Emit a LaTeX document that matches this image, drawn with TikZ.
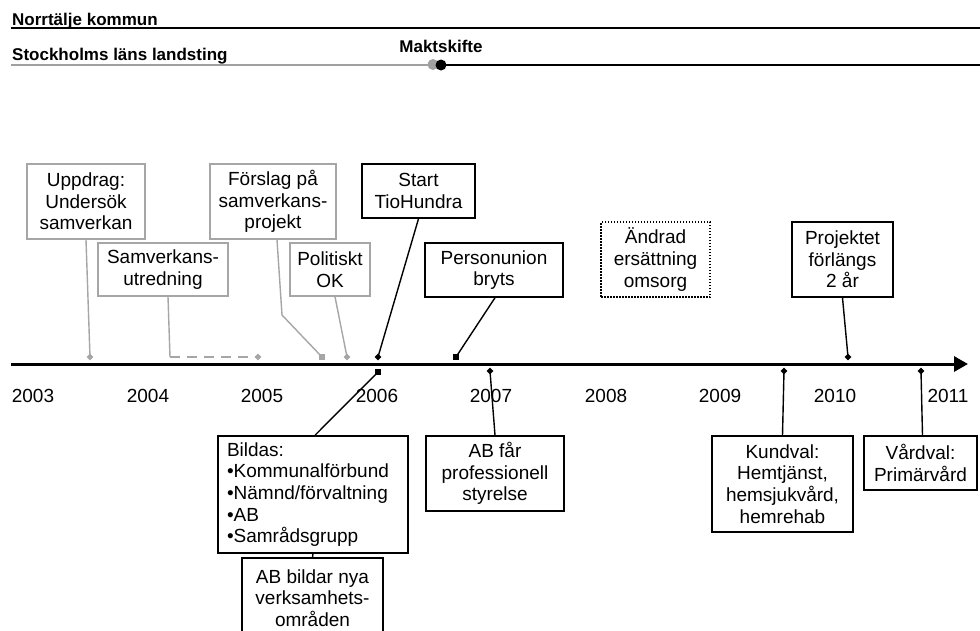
\documentclass[tikz,border=0pt]{standalone}
\usepackage{fontspec}
\setmainfont{Liberation Sans}
\usetikzlibrary{shapes.geometric,arrows.meta}
\definecolor{evgray}{HTML}{A6A6A6}
\definecolor{lngray}{HTML}{A0A0A0}
\begin{document}
\begin{tikzpicture}[x=1pt,y=-1pt,
  ev/.style={draw=black, line width=1.5pt, align=center, inner sep=0pt, fill=white,
    font=\fontsize{19}{21.7}\selectfont},
  gev/.style={ev, draw=evgray},
  lnk/.style={line width=1.4pt, draw=black},
  glnk/.style={line width=1.4pt, draw=evgray},
  dmk/.style={diamond, fill=black, inner sep=0pt, minimum size=7pt},
  gdmk/.style={dmk, fill=evgray},
  smk/.style={rectangle, fill=black, inner sep=0pt, minimum size=5.5pt},
  gsmk/.style={smk, fill=evgray},
  yr/.style={font=\fontsize{19}{22}\selectfont, anchor=base, inner sep=0pt},
  hdr/.style={font=\fontsize{17}{19}\selectfont\bfseries, anchor=base west, inner sep=0pt}]
\clip (0,0) rectangle (980,630);
\fill[white] (0,0) rectangle (980,630);

% --- header lines
\node[hdr] (nk) at (12,25) {Norrtälje kommun};
\coordinate (nkL) at (11,28);
\coordinate (nkR) at (980,28);
\draw[line width=2pt] (nkL) -- (nkR);

\node[hdr] (sll) at (12,60) {Stockholms läns landsting};
\node[circle, fill=lngray, inner sep=0pt, minimum size=11pt] (gd) at (433,64.5) {};
\node[circle, fill=black, inner sep=0pt, minimum size=11pt] (bd) at (441,65) {};
\coordinate (sllL) at (11,64.5);
\coordinate (sllR) at (980,65);
\draw[line width=2pt, lngray] (sllL) -- (gd.center);
\draw[line width=2pt] (bd.center) -- (sllR);
\node[font=\fontsize{17}{19}\selectfont\bfseries, anchor=base, inner sep=0pt] (mk) at (441,52) {Maktskifte};

% --- axis
\coordinate (axL) at (11,364);
\coordinate (axR) at (968,364);
\draw[line width=3pt, -{Triangle[length=14pt,width=15pt]}] (axL) -- (axR);

\node[yr] (y03) at (33,402) {2003};
\node[yr] (y04) at (148,402) {2004};
\node[yr] (y05) at (262,402) {2005};
\node[yr] (y06) at (377,402) {2006};
\node[yr] (y07) at (491,402) {2007};
\node[yr] (y08) at (606,402) {2008};
\node[yr] (y09) at (720,402) {2009};
\node[yr] (y10) at (835,402) {2010};
\node[yr] (y11) at (948,402) {2011};

% --- events above
\node[gev, minimum width=118pt, minimum height=75pt] (u) at (86,201.5) {Uppdrag:\\Undersök\\samverkan};
\node[gev, minimum width=130pt, minimum height=53pt] (sv) at (163,269.5) {Samverkans-\\utredning};
\node[gev, minimum width=126pt, minimum height=75pt] (fp) at (273,201.5) {Förslag på\\samverkans-\\projekt};
\node[gev, minimum width=80pt, minimum height=53pt] (po) at (330,269.5) {Politiskt\\OK};
\node[ev, minimum width=113pt, minimum height=54pt] (st) at (418.5,191) {Start\\TioHundra};
\node[ev, minimum width=138pt, minimum height=54pt] (pu) at (494,270) {Personunion\\bryts};
\node[ev, dash pattern=on 1.5pt off 1.5pt, minimum width=109pt, minimum height=75pt] (ae) at (655.5,259.5) {Ändrad\\ersättning\\omsorg};
\node[ev, minimum width=101pt, minimum height=75pt] (pf) at (842.5,259.5) {Projektet\\förlängs\\2 år};

% markers above
\node[gdmk] (mu) at (90,357) {};
\node[gdmk] (msv) at (258,357) {};
\coordinate (csv) at (170,357);
\node[gsmk] (mfp) at (322,357) {};
\coordinate (cfp) at (282,315);
\node[gdmk] (mpo) at (347,357) {};
\node[dmk] (mst) at (378,357) {};
\node[smk] (mpu) at (456,357) {};
\node[dmk] (mpf) at (848,357) {};

\draw[glnk] (u.south) -- (mu.center);
\draw[glnk] ([xshift=5pt]sv.south) -- (csv);
\draw[glnk, dash pattern=on 10pt off 7pt] (csv) -- (msv.center);
\draw[glnk] ([xshift=4pt]fp.south) -- (cfp) -- (mfp.center);
\draw[glnk] ([xshift=5pt]po.south) -- (mpo.center);
\draw[lnk] (st.south) -- (mst.center);
\draw[lnk] ([xshift=1pt]pu.south) -- (mpu.center);
\draw[lnk] (pf.south) -- (mpf.center);

% --- events below
\node[ev, align=left, text width=172pt, minimum width=190pt, minimum height=117pt] (bi) at (313,494.5)
  {Bildas:\\•Kommunalförbund\\•Nämnd/förvaltning\\•AB\\•Samrådsgrupp};
\node[ev, minimum width=141pt, minimum height=80pt] (ab) at (312.5,598) {AB bildar nya\\verksamhets-\\områden};
\node[ev, minimum width=138pt, minimum height=75pt] (af) at (495,473.5) {AB får\\professionell\\styrelse};
\node[ev, minimum width=141pt, minimum height=96pt] (kv) at (782.5,484) {Kundval:\\Hemtjänst,\\hemsjukvård,\\hemrehab};
\node[ev, minimum width=113pt, minimum height=54pt] (vv) at (920.5,463) {Vårdval:\\Primärvård};

\node[smk] (mbi) at (378,372) {};
\node[dmk] (maf) at (490,371) {};
\node[dmk] (mkv) at (784,371) {};
\node[dmk] (mvv) at (921,371) {};

\draw[lnk] ([xshift=2pt]bi.north) -- (mbi.center);
\draw[lnk] (bi.south) -- (ab.north);
\draw[lnk] (af.north) -- (maf.center);
\draw[lnk] (kv.north) -- (mkv.center);
\draw[lnk] ([xshift=2pt]vv.north) -- (mvv.center);
\end{tikzpicture}
\end{document}
